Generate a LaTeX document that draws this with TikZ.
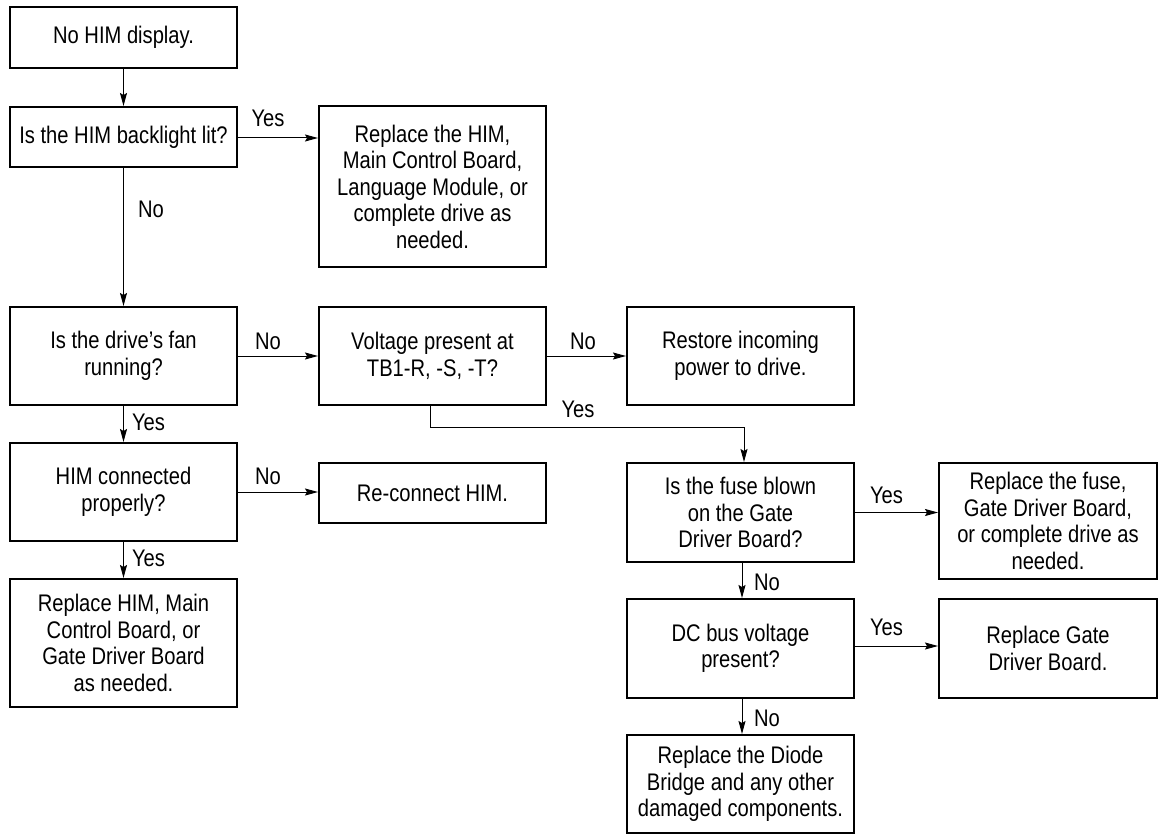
\documentclass[tikz,border=0pt]{standalone}
\usepackage{fontspec}
\setmainfont{Liberation Sans}[FakeStretch=0.84]
\usetikzlibrary{arrows.meta}
\tikzset{
  box/.style={draw, line width=2pt, align=center, inner sep=0pt,
    font=\fontsize{24}{26.5}\selectfont},
  lbl/.style={anchor=base, inner sep=0pt, font=\fontsize{24}{26.5}\selectfont},
  arr/.style={line width=1pt, -{Stealth[length=13pt,width=7pt,inset=2pt]}}
}
\begin{document}
\begin{tikzpicture}[x=1pt,y=-1pt]
\useasboundingbox (0,0) rectangle (1158,834);
% boxes
\node[box, minimum width=227pt, minimum height=61pt] (b1) at (123.5,37.5) {No HIM display.};
\node[box, minimum width=227pt, minimum height=60pt] (b2) at (123.5,137) {Is the HIM backlight lit?};
\node[box, minimum width=227pt, minimum height=161pt] (b3) at (432.5,186.5) {Replace the HIM,\\Main Control Board,\\Language Module, or\\complete drive as\\needed.};
\node[box, minimum width=227pt, minimum height=98pt] (b4) at (123.5,356) {Is the drive’s fan\\running?};
\node[box, minimum width=227pt, minimum height=98pt] (b5) at (432.5,356) {Voltage present at\\TB1-R, -S, -T?};
\node[box, minimum width=227pt, minimum height=98pt] (b6) at (740.5,356) {Restore incoming\\power to drive.};
\node[box, minimum width=227pt, minimum height=98pt] (b7) at (123.5,492) {HIM connected\\properly?};
\node[box, minimum width=227pt, minimum height=60pt] (b8) at (432.5,493) {Re-connect HIM.};
\node[box, minimum width=227pt, minimum height=128pt] (b9) at (123.5,643) {Replace HIM, Main\\Control Board, or\\Gate Driver Board\\as needed.};
\node[box, minimum width=227pt, minimum height=99pt] (b10) at (740.5,512.5) {Is the fuse blown\\on the Gate\\Driver Board?};
\node[box, minimum width=218pt, minimum height=116pt] (b11) at (1048,521) {Replace the fuse,\\Gate Driver Board,\\or complete drive as\\needed.};
\node[box, minimum width=227pt, minimum height=99pt] (b12) at (740.5,648.5) {DC bus voltage\\present?};
\node[box, minimum width=218pt, minimum height=99pt] (b13) at (1048,648.5) {Replace Gate\\Driver Board.};
\node[box, minimum width=227pt, minimum height=98pt] (b14) at (740.5,784) {Replace the Diode\\Bridge and any other\\damaged components.};
% connectors
\draw[arr] (b1) -- (b2);
\draw[arr] ([yshift=-1pt]b2.east) -- ([yshift=-1pt]b2.east -| b3.west);
\draw[arr] (b2) -- (b4);
\draw[arr] (b4) -- (b5);
\draw[arr] (b5) -- (b6);
\draw[arr] (b4) -- (b7);
\draw[arr] (b7) -- (b7 -| b8.west);
\draw[arr] (b7) -- (b9);
\coordinate (yb) at ([xshift=-2.5pt]b5.south);
\coordinate (yt) at ([xshift=3.5pt]b10.north);
\draw[arr] (yb) -- ++(0,21) -| (yt);
\draw[arr] (b10) -- (b10 -| b11.west);
\draw[arr] ([xshift=1.5pt]b10.south) -- ([xshift=1.5pt]b12.north);
\draw[arr] ([yshift=2.5pt]b12.east) -- ([yshift=2.5pt]b12.east -| b13.west);
\draw[arr] ([xshift=1.5pt]b12.south) -- ([xshift=1.5pt]b14.north);
% labels
\node[lbl] (l1) at (268,127) {Yes};
\node[lbl] (l2) at (151,218) {No};
\node[lbl] (l3) at (268,349) {No};
\node[lbl] (l4) at (583,349) {No};
\node[lbl] (l5) at (148.5,430) {Yes};
\node[lbl] (l6) at (268,484) {No};
\node[lbl] (l7) at (148.5,566) {Yes};
\node[lbl] (l8) at (578,417) {Yes};
\node[lbl] (l9) at (886.5,503) {Yes};
\node[lbl] (l10) at (767,590) {No};
\node[lbl] (l11) at (886.5,635) {Yes};
\node[lbl] (l12) at (767,726) {No};
\end{tikzpicture}
\end{document}
